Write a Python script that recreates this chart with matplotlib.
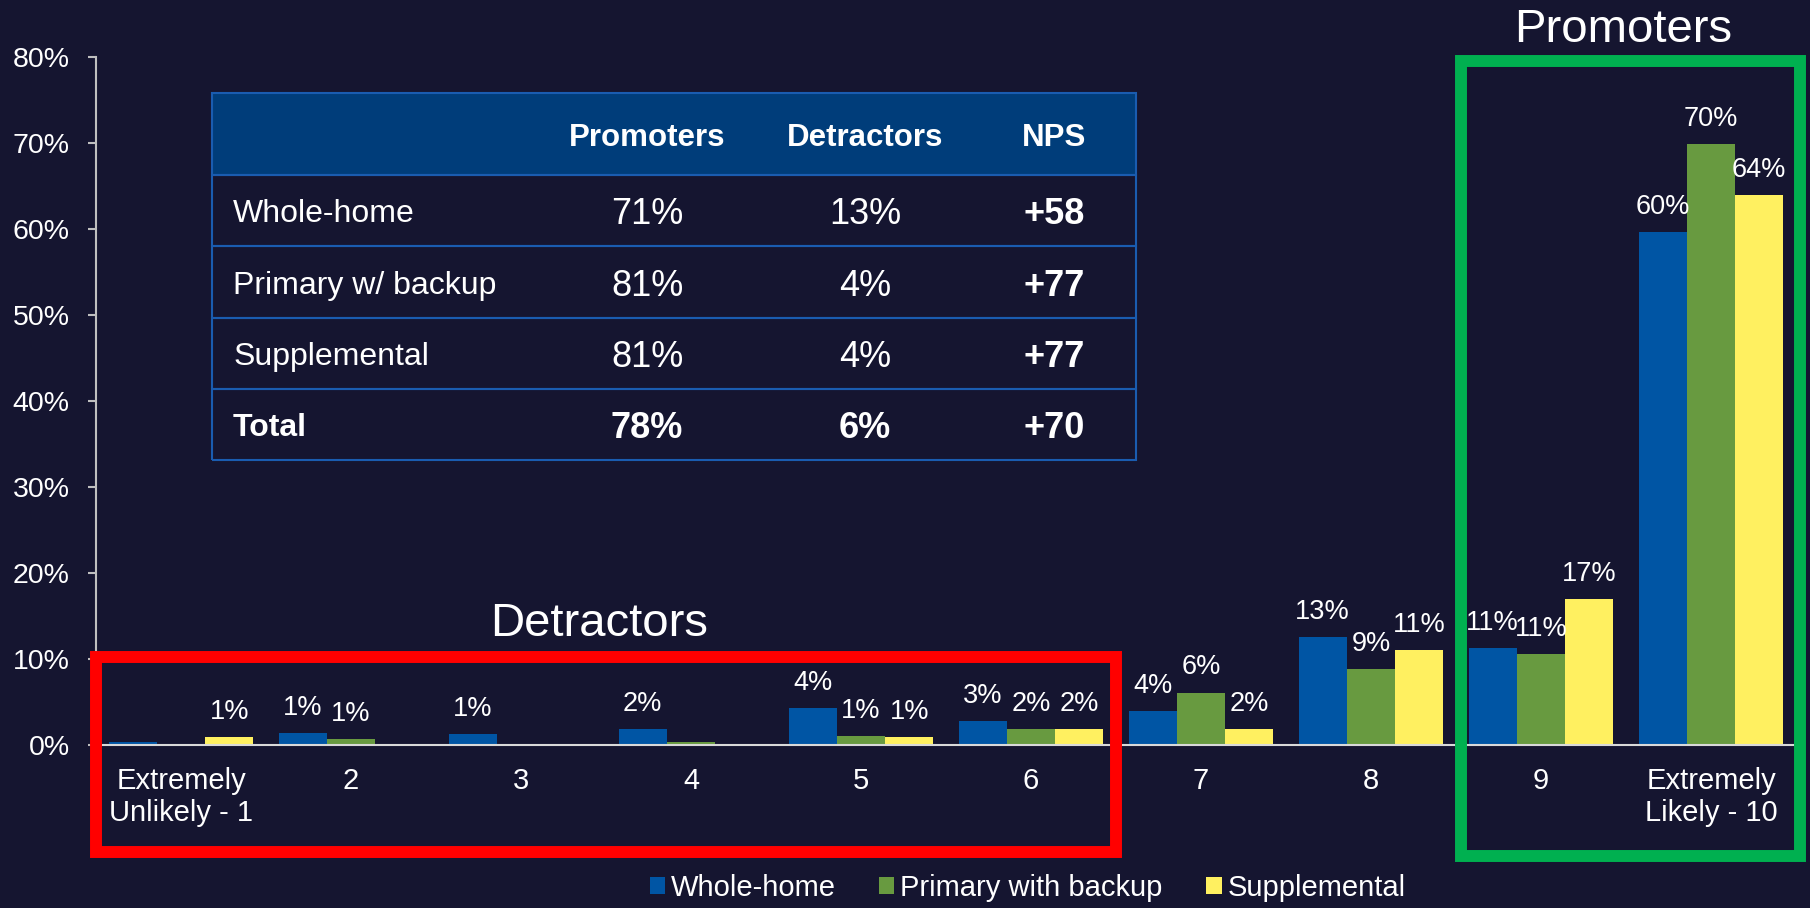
import numpy as np
import matplotlib
matplotlib.use('Agg')
import matplotlib.pyplot as plt
from matplotlib.patches import Rectangle

plt.rcParams['font.family'] = ['Liberation Sans', 'DejaVu Sans']

bg = '#151530'

categories = ['Extremely\nUnlikely - 1', '2', '3', '4', '5', '6', '7', '8', '9', 'Extremely\nLikely - 10']
series_names = ['Whole-home', 'Primary with backup', 'Supplemental']
whole_home = [0.4, 1.4, 1.3, 1.9, 4.3, 2.8, 3.9, 12.6, 11.3, 59.6]
primary_backup = [0.0, 0.7, 0.0, 0.3, 1.0, 1.9, 6.1, 8.8, 10.6, 69.9]
supplemental = [0.9, 0.0, 0.0, 0.0, 0.9, 1.9, 1.9, 11.0, 17.0, 63.9]
colors = ['#0055a4', '#689a40', '#fff060']

table_cols = ['', 'Promoters', 'Detractors', 'NPS']
table_rows = ['Whole-home', 'Primary w/ backup', 'Supplemental', 'Total']
promoters = ['71%', '81%', '81%', '78%']
detractors = ['13%', '4%', '4%', '6%']
nps = ['+58', '+77', '+77', '+70']

fig = plt.figure(figsize=(18.1, 9.08), dpi=100, facecolor=bg)
ax = fig.add_axes([96 / 1810, 163 / 908, 1700 / 1810, 688 / 908])
ax.set_facecolor(bg)

x = np.arange(len(categories))
w = 0.284
for i, (vals, name, c) in enumerate(zip([whole_home, primary_backup, supplemental], series_names, colors)):
    bars = ax.bar(x + (i - 1) * w, vals, width=w, color=c, label=name, zorder=2)
    for b, v in zip(bars, vals):
        if v >= 0.5:
            ax.annotate(f'{round(v)}%', (b.get_x() + b.get_width() / 2, v),
                        xytext=(0, 13), textcoords='offset points',
                        ha='center', va='baseline', color='white', fontsize=19.5)

ax.set_xlim(-0.5, 9.5)
ax.set_ylim(0, 80)
ax.set_yticks(range(0, 81, 10))
ax.set_yticklabels([f'{t}%' for t in range(0, 81, 10)])
ax.set_xticks(x)
ax.set_xticklabels(categories)
ax.tick_params(axis='y', colors='#bfbfbf', labelcolor='white', labelsize=20.5, length=6, width=1.5, pad=13)
ax.tick_params(axis='x', length=0, labelcolor='white', labelsize=21, pad=15.5)
for s in ['top', 'right']:
    ax.spines[s].set_visible(False)
ax.spines['left'].set_color('#bfbfbf')
ax.spines['left'].set_linewidth(1.5)
ax.spines['bottom'].set_color('#d9d9d9')
ax.spines['bottom'].set_linewidth(1.5)
ax.spines['bottom'].set_zorder(3)

# NPS table
tx0, tw = (212 - 96) / 1700, 924 / 1700
ax.add_patch(Rectangle((tx0, (745 - 175) / 688), tw, 82 / 688, transform=ax.transAxes,
                       facecolor='#003d7a', edgecolor='none', zorder=1))
cell_text = [[r, p, d, n] for r, p, d, n in zip(table_rows, promoters, detractors, nps)]
tab = ax.table(cellText=cell_text, colLabels=table_cols,
               bbox=[tx0, (745 - 460) / 688, tw, 367 / 688])
tab.set_zorder(3)
tab.auto_set_font_size(False)
col_w = [324, 222, 214, 164]
line_c = '#1a5cb0'
for (r, c), cell in tab.get_celld().items():
    cell.set_width(col_w[c])
    cell.set_height(82 if r == 0 else 71)
    cell.set_facecolor('none')
    cell.set_edgecolor(line_c)
    cell.set_linewidth(1.5)
    edges = 'BT'
    if c == 0:
        edges += 'L'
    if c == 3:
        edges += 'R'
    cell.visible_edges = edges
    txt = cell.get_text()
    txt.set_color('white')
    txt.set_va('center_baseline')
    if r == 0:
        txt.set_fontsize(22.5)
        txt.set_fontweight('bold')
    else:
        txt.set_fontsize(23 if c == 0 else 26)
        if r == 4 or c == 3:
            txt.set_fontweight('bold')
    if c == 0:
        cell._loc = 'left'
        cell.PAD = 0.065
        txt.set_ha('left')
    else:
        cell._loc = 'center'
        txt.set_ha('center')

# highlight boxes
fig.patches.append(Rectangle((96 / 1810, 56 / 908), 1020 / 1810, 195 / 908, transform=fig.transFigure,
                             fill=False, edgecolor='#ff0000', linewidth=8.6, joinstyle='miter', zorder=5))
fig.patches.append(Rectangle((1461 / 1810, 52 / 908), 338.5 / 1810, 795 / 908, transform=fig.transFigure,
                             fill=False, edgecolor='#00b050', linewidth=8.6, joinstyle='miter', zorder=5))
fig.text(599 / 1810, (908 - 636) / 908, 'Detractors', color='white', fontsize=34, ha='center', va='baseline')
fig.text(1623 / 1810, (908 - 41.7) / 908, 'Promoters', color='white', fontsize=34, ha='center', va='baseline')

fig.legend(loc='center', bbox_to_anchor=(1027.5 / 1810, 20 / 908), ncol=3, frameon=False,
           fontsize=21, labelcolor='white', handlelength=0.52, handleheight=0.52,
           handletextpad=0.2, columnspacing=1.5)

fig.savefig('out.png', dpi=100, facecolor=bg)
